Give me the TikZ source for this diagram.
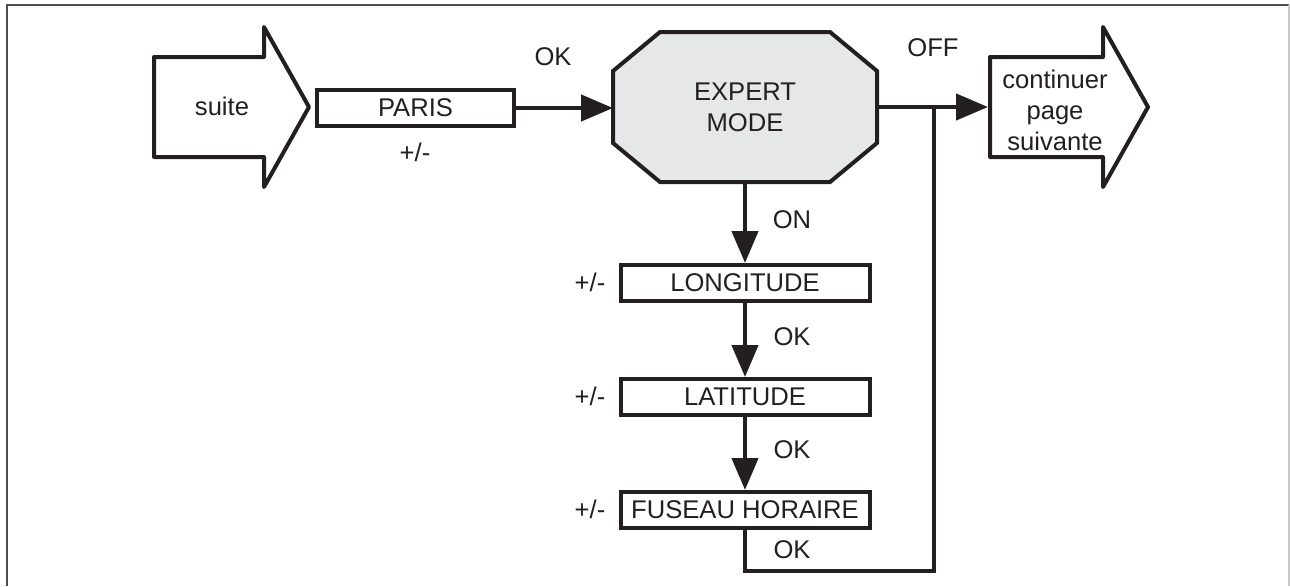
\documentclass[tikz,border=0pt]{standalone}
\usepackage{fontspec}
\setmainfont{Liberation Sans}
\usepackage{tikz}
\usetikzlibrary{arrows.meta,backgrounds}
\definecolor{inkblack}{HTML}{231F20}
\definecolor{modegrey}{HTML}{E6E7E8}
\definecolor{framegrey}{HTML}{4D4D4D}
\definecolor{edgegrey}{HTML}{C8C8C8}
\newcommand{\cutx}{23.5pt}
\newcommand{\cuty}{19.5pt}

\begin{document}
\begin{tikzpicture}[
    x=0.5pt, y=-0.5pt,
    every node/.style={font=\fontsize{12.8pt}{15.5pt}\selectfont, align=center, text=inkblack},
    box/.style={
      draw=inkblack, line width=2pt, rectangle, inner sep=0pt,
      minimum height=18pt, fill=white
    },
    modebox/.style={
      rectangle, minimum width=132pt, minimum height=75pt,
      inner sep=0pt, outer sep=0pt
    },
    octo/.style={draw=inkblack, line width=2pt, fill=modegrey},
    fat/.style={draw=inkblack, line width=2pt, line join=round},
    wire/.style={inkblack, line width=2.2pt},
    flow/.style={wire, -{Triangle[length=16pt, width=13pt]}},
    frame/.style={framegrey, line width=1pt}
  ]
  \useasboundingbox (0,0) rectangle (1290,586);

  % --- cadre --------------------------------------------------------------
  \draw[frame] (7,586) -- (7,5) -- (1289,5);
  \draw[edgegrey, line width=1pt] (1289,5) -- (1289,586);

  % --- grosses fleches d'entree et de sortie ------------------------------
  \draw[fat] (154,57) -- (264,57) -- (264,27) -- (309,107) -- (264,187) -- (264,157) -- (154,157) -- cycle;
  \node (suite) at (222,106) {suite};
  \draw[fat] (990,57) -- (1103,57) -- (1103,27) -- (1148,107) -- (1103,187) -- (1103,157) -- (990,157) -- cycle;
  \node (continuer) at (1055,110) {continuer\\page\\suivante};
  \coordinate (conttail) at (988,107);

  % --- ligne du haut ------------------------------------------------------
  \node[box, minimum width=98.5pt] (paris) at (415.5,108) {PARIS};
  \node (pmparis) at (415,152) {+/-};
  \node[modebox] (expert) at (745,107) {EXPERT\\MODE};
  \begin{scope}[on background layer]
    \draw[octo] ([xshift=\cutx]expert.north west) -- ([xshift=-\cutx]expert.north east)
      -- ([yshift=-\cuty]expert.north east) -- ([yshift=\cuty]expert.south east)
      -- ([xshift=-\cutx]expert.south east) -- ([xshift=\cutx]expert.south west)
      -- ([yshift=\cuty]expert.south west) -- ([yshift=-\cuty]expert.north west) -- cycle;
  \end{scope}
  \node (okparis) at (553,57) {OK};
  \node (offlbl) at (933,48) {OFF};

  \draw[flow] (paris.east) -- (paris.east -| expert.west);
  \draw[flow] (expert.east) -- (conttail);

  % --- colonne des reglages -----------------------------------------------
  \foreach \n/\y/\t in {longitude/283/LONGITUDE, latitude/397/LATITUDE, fuseau/510/{FUSEAU HORAIRE}}
    {\node[box, minimum width=124.5pt] (\n) at (745,\y) {\t};
     \node (pm\n) at (590,\y-1) {+/-};}

  \node (onlbl) at (792,220) {ON};
  \node (oklon) at (792,337) {OK};
  \node (oklat) at (792,450) {OK};
  \node (okfus) at (792,550) {OK};

  \draw[flow] (expert.south) -- (longitude.north);
  \draw[flow] (longitude.south) -- (latitude.north);
  \draw[flow] (latitude.south) -- (fuseau.north);

  % --- retour vers la sortie ----------------------------------------------
  \coordinate (loopturn) at (934,571);
  \draw[wire] (fuseau.south) |- (loopturn) -- (loopturn |- expert.east);

\end{tikzpicture}
\end{document}
